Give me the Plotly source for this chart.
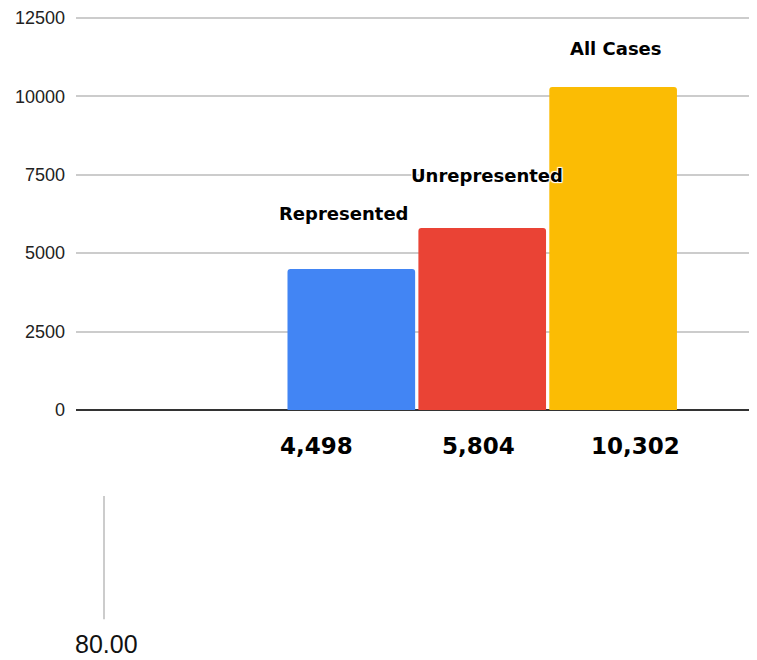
import plotly.graph_objects as go

categories = ["Represented", "Unrepresented", "All Cases"]
values = [4498, 5804, 10302]
colors = ["#4285F4", "#EA4335", "#FBBC04"]
y_ticks = [0, 2500, 5000, 7500, 10000, 12500]
value_labels = [f"{v:,}" for v in values]
stray_label = "80.00"

# page body has an 8px margin; figure is sized to fit the 757x660 window
W, H = 749, 652
PL, PT, PB = 68, 0, 402   # plot left, top, bottom in figure pixels
PW, PH = W - PL, PB - PT
Y_TOP = 12500 * PH / 397  # axis span chosen so 12500 sits near the top as in the reference

label_font = dict(family="DejaVu Sans, Arial Black, sans-serif", size=18, color="black",
                  weight="bold",
                  shadow="1px 1px 1px white, -1px -1px 1px white, 1px -1px 1px white, -1px 1px 1px white")
value_font = dict(family="DejaVu Sans, Arial, sans-serif", size=23, color="black", weight="bold")

fig = go.Figure()
fig.add_trace(go.Bar(
    x=categories, y=values,
    marker=dict(color=colors, line=dict(width=0), cornerradius=3),
    showlegend=False, hoverinfo="x+y",
))

yshifts = [55, 52, 38]
xshifts = [-8, 5, 3]
for c, v, ys, xs in zip(categories, values, yshifts, xshifts):
    fig.add_annotation(x=c, y=v, text=c, showarrow=False, yanchor="middle",
                       yshift=ys, xshift=xs, font=label_font)

# value labels beneath the axis (offset from bar centres as in the reference)
val_xshifts = [-35, -4, 22]
for c, lbl, xs in zip(categories, value_labels, val_xshifts):
    fig.add_annotation(x=c, y=0, text=lbl, showarrow=False, yanchor="middle",
                       yshift=-36, xshift=xs, font=value_font)

# stray fragment of another chart at the bottom
fig.add_shape(type="line", xref="paper", yref="paper",
              x0=(96 - PL) / PW, x1=(96 - PL) / PW,
              y0=-(489 - PB) / PH, y1=-(614 - PB) / PH,
              line=dict(color="#cccccc", width=2))
fig.add_annotation(xref="paper", yref="paper", x=(65 - PL) / PW, y=-(639 - PB) / PH,
                   text=stray_label, showarrow=False, xanchor="left", yanchor="middle",
                   font=dict(family="Liberation Sans Narrow, Liberation Sans, Arial, sans-serif",
                             size=25, color="#111111"))

fig.update_layout(
    width=W, height=H,
    margin=dict(l=PL, r=0, t=PT, b=H - PB, pad=0),
    paper_bgcolor="white", plot_bgcolor="white",
    bargap=0.025,
    xaxis=dict(
        type="category", range=[-2.103, 3.099],
        showticklabels=False,
        showgrid=False, showline=False, zeroline=False, ticks="",
    ),
    yaxis=dict(
        range=[0, Y_TOP], tickmode="array", tickvals=y_ticks, tickformat="d",
        tickfont=dict(family="Liberation Sans, Arial, sans-serif", size=18, color="#222222"),
        showgrid=True, gridcolor="#cccccc", gridwidth=1.5,
        zeroline=True, zerolinecolor="#333333", zerolinewidth=1.5,
        showline=False, ticks="", ticklabelstandoff=10, ticklabeloverflow="allow",
    ),
)

fig.write_html("out.html")
